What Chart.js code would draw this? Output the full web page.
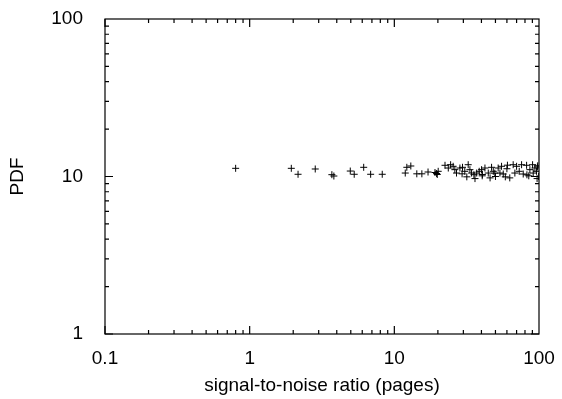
<!DOCTYPE html>
<html>
<head>
<meta charset="utf-8">
<script src="https://cdn.jsdelivr.net/npm/chart.js@4/dist/chart.umd.min.js"></script>
<style>
  html, body { margin: 0; padding: 0; background: #fff; }
  #wrap { width: 562px; height: 399px; }
</style>
</head>
<body>
<div id="wrap"><canvas id="pdfChart" width="562" height="399"></canvas></div>
<script>
// Valeurs
const xTickLabels = [0.1, 1, 10, 100];
const yTickLabels = [1, 10, 100];

const snr = [0.80, 1.94, 2.16, 2.84, 3.70, 3.82, 4.96, 5.28, 6.14, 6.86, 8.25,
    11.9, 12.2, 13.0, 14.3, 15.5, 17.1, 19.1, 19.6, 20.1, 19.8,
    22.4, 23.6, 24.5, 25.5, 26.2, 26.9, 28.4, 29.6, 30.7, 32.4, 33.3, 34.2, 35.5, 37.1, 38.6,
    40.1, 42.3, 44.6, 47.0, 48.3, 52.2, 53.7, 55.1, 56.6, 66.3, 68.1, 70.0, 73.0, 75.8, 77.8,
    82.1, 86.5, 90.3, 91.2, 93.7, 96.2,
    36.1, 45.9, 58.5, 97.0, 31.7, 62.8, 40.5, 50.0, 60.0, 85.0, 97.5,
    49.5, 60.5, 82.5, 98.0, 99.5, 29.4, 40.6];
const pdf = [11.27, 11.27, 10.33, 11.16, 10.27, 10.07, 10.83, 10.33, 11.44, 10.33, 10.33,
    10.52, 11.44, 11.66, 10.40, 10.40, 10.68, 10.60, 10.45, 10.79, 10.30,
    11.78, 11.32, 11.88, 11.61, 11.05, 10.52, 11.32, 11.44, 10.79, 11.88, 11.05, 10.52, 10.27, 10.52, 10.79,
    11.05, 11.32, 10.52, 11.44, 10.79, 11.32, 10.52, 11.61, 10.37, 11.88, 10.52, 11.61, 10.79, 11.88, 10.37,
    11.78, 11.05, 11.88, 10.52, 11.32, 10.79,
    9.70, 9.80, 9.95, 9.70, 9.95, 9.80, 10.10, 10.00, 11.20, 10.10, 11.50,
    10.50, 11.80, 10.25, 11.70, 10.00, 10.40, 10.30];

const font = { family: "'Liberation Sans', Arial, sans-serif", size: 19 };

// Cadre et graduations vers l'intérieur (style gnuplot)
const frameTicks = {
    id: 'frameTicks',
    afterDraw(chart) {
        const { ctx, chartArea: a, scales } = chart;
        ctx.save();
        ctx.strokeStyle = '#000';
        ctx.lineWidth = 1.2;
        ctx.strokeRect(a.left, a.top, a.right - a.left, a.bottom - a.top);
        ctx.beginPath();
        for (let d = -1; d < 2; d++) {
            for (let m = 1; m <= 9; m++) {
                const v = m * Math.pow(10, d);
                const px = scales.x.getPixelForValue(v);
                const len = m === 1 ? 8 : 4;
                ctx.moveTo(px, a.bottom); ctx.lineTo(px, a.bottom - len);
                ctx.moveTo(px, a.top); ctx.lineTo(px, a.top + len);
            }
        }
        for (let d = 0; d < 2; d++) {
            for (let m = 1; m <= 9; m++) {
                const v = m * Math.pow(10, d);
                const py = scales.y.getPixelForValue(v);
                const len = m === 1 ? 8 : 4;
                ctx.moveTo(a.left, py); ctx.lineTo(a.left + len, py);
                ctx.moveTo(a.right, py); ctx.lineTo(a.right - len, py);
            }
        }
        ctx.stroke();
        ctx.restore();
    }
};

const ctx = document.getElementById('pdfChart').getContext('2d');
new Chart(ctx, {
    type: 'scatter',
    data: {
        datasets: [{
            data: snr.map((x, i) => ({ x: x, y: pdf[i] })),
            pointStyle: 'cross',
            pointRadius: 3.5,
            borderColor: '#000',
            borderWidth: 1,
            backgroundColor: '#000'
        }]
    },
    options: {
        responsive: false,
        animation: false,
        layout: { padding: { left: 0, right: 23, top: 19, bottom: 0 } },
        plugins: { legend: { display: false }, tooltip: { enabled: false } },
        scales: {
            x: {
                type: 'logarithmic',
                min: 0.1, max: 100,
                grid: { display: false },
                border: { display: false },
                afterBuildTicks: s => { s.ticks = xTickLabels.map(v => ({ value: v })); },
                afterFit: s => { s.height = 65; s.paddingLeft = 0; s.paddingRight = 0; },
                ticks: { color: '#000', font: font, padding: 5, maxRotation: 0, autoSkip: false,
                    callback: v => String(v) },
                title: { display: true, text: 'signal-to-noise ratio (pages)', color: '#000', font: font, padding: 2 }
            },
            y: {
                type: 'logarithmic',
                min: 1, max: 100,
                grid: { display: false },
                border: { display: false },
                afterBuildTicks: s => { s.ticks = yTickLabels.map(v => ({ value: v })); },
                afterFit: s => { s.width = 105; s.paddingTop = 0; s.paddingBottom = 0; },
                ticks: { color: '#000', font: font, padding: 14, autoSkip: false,
                    callback: v => String(v) },
                title: { display: true, text: 'PDF', color: '#000', font: font, padding: 6 }
            }
        }
    },
    plugins: [frameTicks]
});
</script>
</body>
</html>
